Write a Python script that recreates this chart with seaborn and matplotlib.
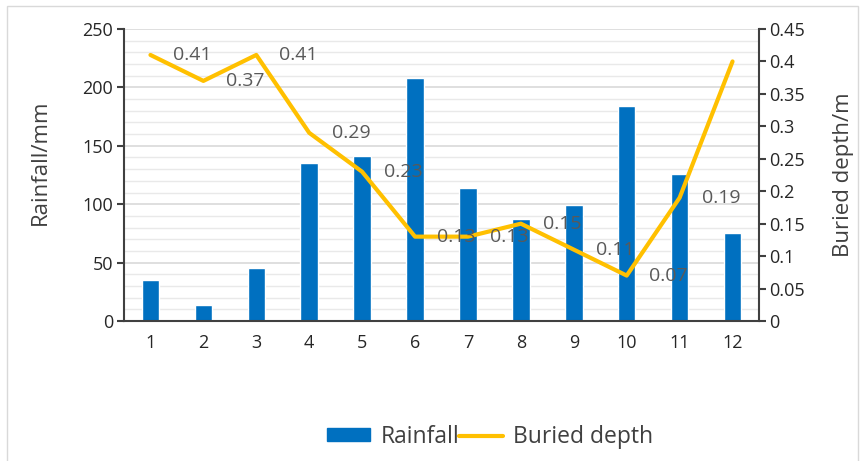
import matplotlib
matplotlib.use("Agg")
import matplotlib.pyplot as plt
import seaborn as sns
import numpy as np
import pandas as pd
from matplotlib.ticker import MultipleLocator, FuncFormatter
from matplotlib.patches import Rectangle, Patch
from matplotlib.lines import Line2D

# ---- data ----
months = [1, 2, 3, 4, 5, 6, 7, 8, 9, 10, 11, 12]
rainfall = [35, 14, 45, 135, 141, 208, 114, 87, 99, 184, 126, 75]
depth = [0.41, 0.37, 0.41, 0.29, 0.23, 0.13, 0.13, 0.15, 0.11, 0.07, 0.19, 0.40]
left_ticks = [0, 50, 100, 150, 200, 250]
right_ticks = [0, 0.05, 0.1, 0.15, 0.2, 0.25, 0.3, 0.35, 0.4, 0.45]
series_names = ["Rainfall", "Buried depth"]
left_label = "Rainfall/mm"
right_label = "Buried depth/m"

BLUE = "#0070C0"
YELLOW = "#FFC000"
TXT = "#262626"

sns.set_theme(style="white")
plt.rcParams["font.family"] = ["Open Sans", "DejaVu Sans"]

df = pd.DataFrame({"Month": months, "Rainfall": rainfall, "Depth": depth})

fig = plt.figure(figsize=(8.68, 4.61), dpi=100)
ax = fig.add_axes([124 / 868, 1 - 321 / 461, (759 - 124) / 868, (321 - 29) / 461])

sns.barplot(data=df, x="Month", y="Rainfall", native_scale=True, width=0.33,
            color=BLUE, saturation=1, ax=ax, zorder=2)
ax2 = ax.twinx()
sns.lineplot(data=df, x="Month", y="Depth", color=YELLOW, lw=3, ax=ax2)

ax.set_xlim(0.5, 12.5)
ax.set_ylim(0, 250)
ax2.set_ylim(0, 0.45)
ax.set_xticks(months)
ax.set_xticklabels([str(m) for m in months])
ax.set_yticks(left_ticks)
ax2.set_yticks(right_ticks)
ax2.yaxis.set_major_formatter(FuncFormatter(lambda v, p: f"{v:g}"))
ax.yaxis.set_minor_locator(MultipleLocator(10))

ax.set_axisbelow(True)
ax.grid(which="major", axis="y", color="#D9D9D9", lw=1.2)
ax.grid(which="minor", axis="y", color="#E9E9E9", lw=1)
ax.grid(which="major", axis="x", visible=False)

for a in (ax, ax2):
    a.set_xlabel("")
    a.set_ylabel("")
    a.spines["top"].set_visible(False)
ax.spines["right"].set_visible(False)
ax2.spines["left"].set_visible(False)
ax2.spines["bottom"].set_visible(False)
for s in ("left", "bottom"):
    ax.spines[s].set_color("#404040")
    ax.spines[s].set_linewidth(1.5)
ax2.spines["right"].set_color("#404040")
ax2.spines["right"].set_linewidth(1.5)

ax.tick_params(axis="y", which="major", direction="out", length=5, width=1.5,
               color="#404040", labelsize=13, labelcolor=TXT, pad=3, left=True)
ax.tick_params(axis="y", which="minor", length=0)
ax.tick_params(axis="x", length=0, labelsize=13, labelcolor=TXT, pad=9)
ax2.tick_params(axis="y", direction="out", length=5, width=1.5, color="#404040",
                labelsize=13, labelcolor=TXT, pad=2, right=True)

# data labels (offset to the right of each point, last one falls outside)
for m, v in zip(months[:-1], depth[:-1]):
    ax2.annotate(f"{v:.2f}", xy=(m, v), xytext=(30, 0), textcoords="offset points",
                 ha="center", va="center", fontsize=14, color="#595959")

fig.text(40 / 868, 1 - 162 / 461, left_label, rotation=90, ha="center", va="center",
         fontsize=16, color="#404040")
fig.text(843 / 868, 1 - 175 / 461, right_label, rotation=90, ha="center", va="center",
         fontsize=16, color="#404040")

handles = [Patch(facecolor=BLUE, edgecolor=BLUE),
           Line2D([], [], color=YELLOW, lw=3)]
fig.legend(handles, series_names, loc="center", bbox_to_anchor=(490 / 868, 1 - 437 / 461),
           ncol=2, frameon=False, fontsize=16.5, handlelength=1.9, handleheight=0.5,
           columnspacing=0.0, handletextpad=0.45, labelcolor="#404040")

fig.add_artist(Rectangle((7 / 868, -0.05), (858 - 7) / 868, 1 - 6 / 461 + 0.05,
                         transform=fig.transFigure, fill=False, edgecolor="#D9D9D9", lw=1))

fig.savefig("out.png", dpi=100)
